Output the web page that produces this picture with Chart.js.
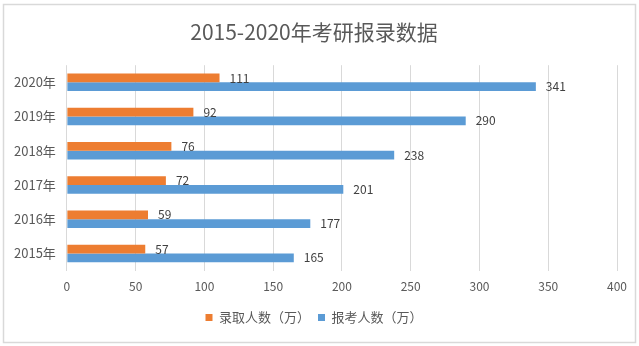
<!DOCTYPE html>
<html>
<head>
<meta charset="utf-8">
<script src="https://cdn.jsdelivr.net/npm/chart.js@4/dist/chart.umd.min.js"></script>
<style>
  html, body { margin: 0; padding: 0; background: #fff; }
  #wrap { width: 639px; height: 346px; position: relative; }
</style>
</head>
<body>
<div id="wrap"><canvas id="chart"></canvas></div>
<script>
// Data, top row first
const years = ['2020年', '2019年', '2018年', '2017年', '2016年', '2015年'];
const admitted = [111, 92, 76, 72, 59, 57];
const applicants = [341, 290, 238, 201, 177, 165];
const seriesNames = ['录取人数（万）', '报考人数（万）'];
const xTicks = [0, 50, 100, 150, 200, 250, 300, 350, 400];

const FONT = "'Noto Sans CJK SC', 'Noto Sans', sans-serif";
Chart.defaults.font.family = FONT;
Chart.defaults.color = '#595959';
Chart.defaults.responsive = true;
Chart.defaults.maintainAspectRatio = false;
Chart.defaults.animation = false;

// light gray frame around the whole chart
const framePlugin = {
    id: 'frame',
    beforeDraw(chart) {
        const c = chart.ctx;
        c.save();
        c.fillStyle = '#fff';
        c.fillRect(0, 0, chart.width, chart.height);
        c.strokeStyle = '#d9d9d9';
        c.lineWidth = 1.5;
        c.strokeRect(3.5, 4.5, 632, 338);
        c.restore();
    }
};

// value labels at the end of each bar
const valueLabels = {
    id: 'valueLabels',
    afterDatasetsDraw(chart) {
        const c = chart.ctx;
        c.save();
        c.font = '12px ' + FONT;
        c.fillStyle = '#404040';
        c.textBaseline = 'middle';
        c.textAlign = 'left';
        chart.data.datasets.forEach((ds, i) => {
            chart.getDatasetMeta(i).data.forEach((bar, j) => {
                c.fillText(ds.data[j], bar.x + 10, bar.y);
            });
        });
        c.restore();
    }
};

new Chart(document.getElementById('chart'), {
    type: 'bar',
    data: {
        labels: years,
        datasets: [{
            label: seriesNames[0],
            data: admitted,
            backgroundColor: '#ED7D31',
            borderWidth: 0,
            barPercentage: 1,
            categoryPercentage: 0.51
        }, {
            label: seriesNames[1],
            data: applicants,
            backgroundColor: '#5B9BD5',
            borderWidth: 0,
            barPercentage: 1,
            categoryPercentage: 0.51
        }]
    },
    options: {
        indexAxis: 'y',
        layout: {
            padding: { left: 11, right: 22, top: 0, bottom: 12 }
        },
        plugins: {
            title: {
                display: true,
                text: '2015-2020年考研报录数据',
                color: '#595959',
                font: { size: 21, weight: 'normal' },
                padding: { top: 19, bottom: 21 }
            },
            legend: {
                position: 'bottom',
                labels: {
                    boxWidth: 7,
                    boxHeight: 7,
                    padding: 8,
                    color: '#595959',
                    font: { size: 13 }
                }
            },
            tooltip: { enabled: false }
        },
        scales: {
            x: {
                min: 0,
                max: 400,
                afterBuildTicks: axis => {
                    axis.ticks = xTicks.map(v => ({ value: v }));
                },
                grid: {
                    color: '#d9d9d9',
                    drawTicks: false
                },
                border: { display: false },
                ticks: {
                    padding: 9,
                    color: '#595959',
                    font: { size: 12 }
                }
            },
            y: {
                grid: { display: false },
                border: { display: false },
                ticks: {
                    padding: 3,
                    color: '#595959',
                    font: { size: 13 }
                }
            }
        }
    },
    plugins: [framePlugin, valueLabels]
});
</script>
</body>
</html>
